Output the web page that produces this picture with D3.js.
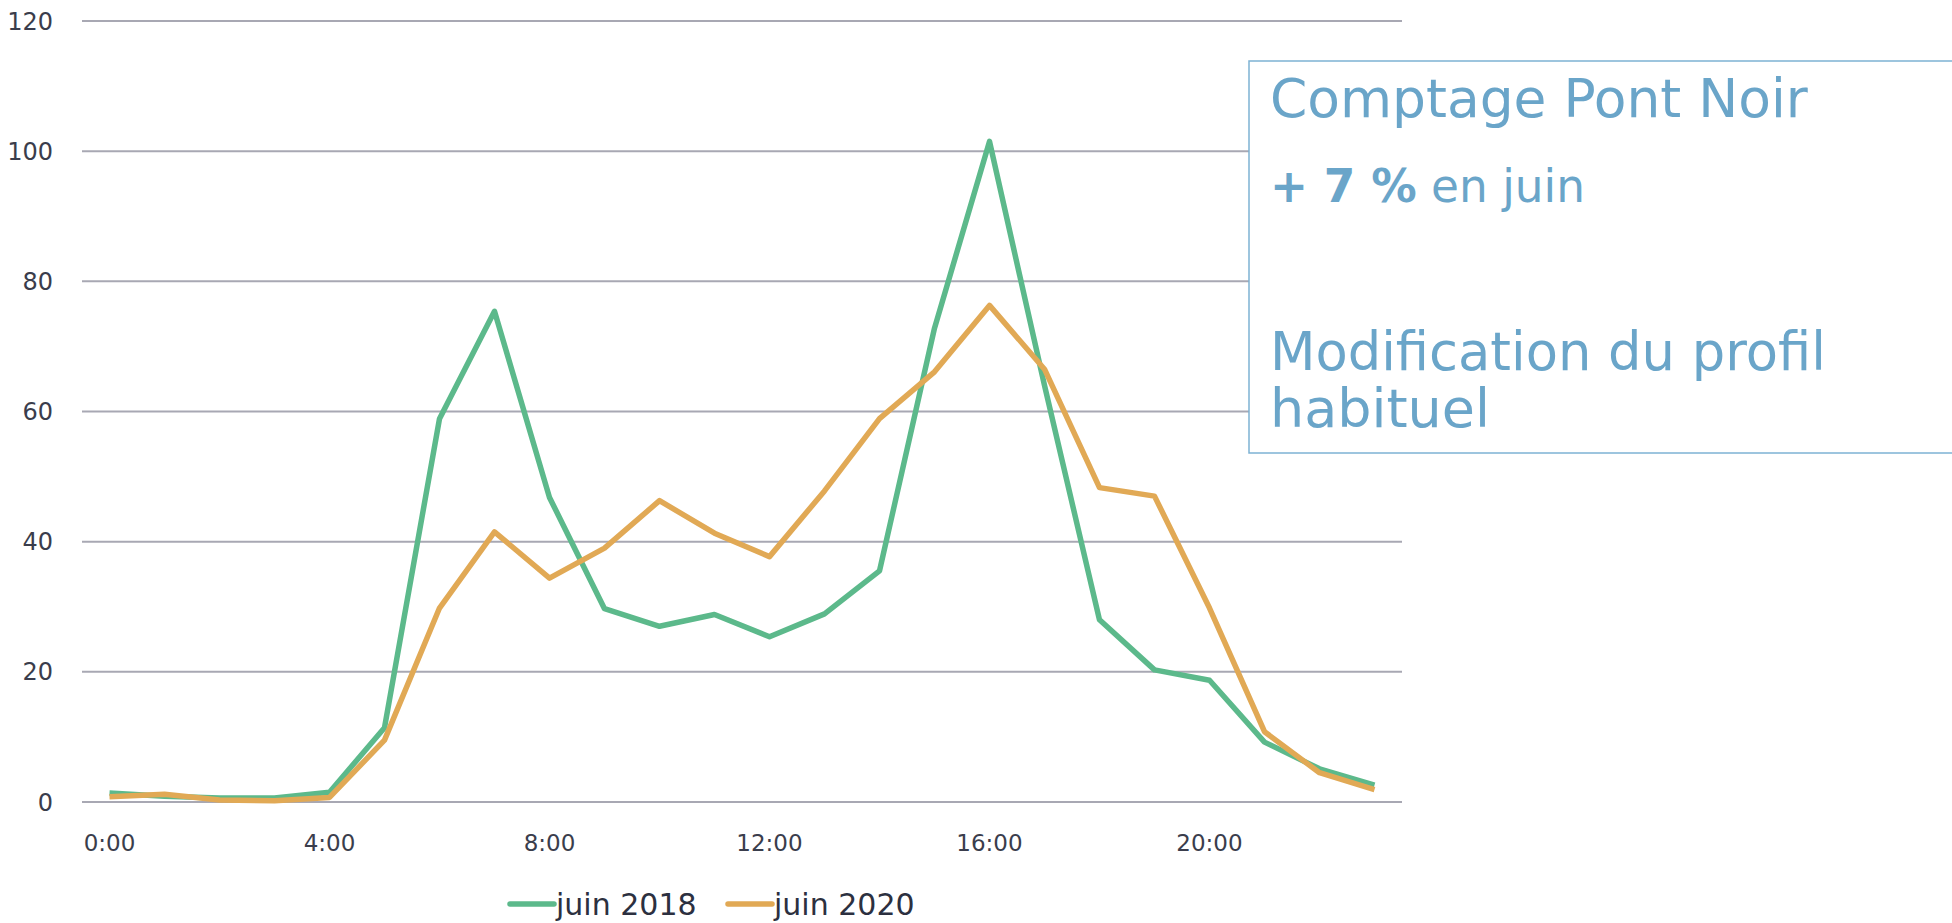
<!DOCTYPE html>
<html>
<head>
<meta charset="utf-8">
<script src="https://cdn.jsdelivr.net/npm/d3@7"></script>
<style>
  html, body { margin: 0; padding: 0; background: #ffffff; }
  svg { display: block; }
</style>
</head>
<body>
<svg id="chart" width="1952" height="923"></svg>
<script>
// ---- data ----
const hours = ["0:00","1:00","2:00","3:00","4:00","5:00","6:00","7:00","8:00","9:00","10:00","11:00",
               "12:00","13:00","14:00","15:00","16:00","17:00","18:00","19:00","20:00","21:00","22:00","23:00"];
const xTickLabels = ["0:00","4:00","8:00","12:00","16:00","20:00"];
const yTicks = [0, 20, 40, 60, 80, 100, 120];
const seriesNames = ["juin 2018", "juin 2020"];
const juin2018 = [1.4, 0.9, 0.6, 0.6, 1.5, 11.4, 58.9, 75.4, 46.8, 29.7, 27.0, 28.8,
                  25.4, 28.9, 35.5, 72.8, 101.5, 64.0, 28.0, 20.3, 18.7, 9.2, 5.1, 2.6];
const juin2020 = [0.8, 1.2, 0.3, 0.2, 0.7, 9.5, 29.8, 41.5, 34.4, 39.0, 46.3, 41.3,
                  37.7, 47.8, 58.9, 66.1, 76.3, 66.5, 48.3, 47.0, 29.8, 10.8, 4.5, 1.9];
const boxTitle = "Comptage Pont Noir";
const boxBold = "+ 7 %";
const boxRest = " en juin";
const boxLine3 = "Modification du profil";
const boxLine4 = "habituel";

// ---- setup ----
const svg = d3.select("#chart");
const colors = ["#5cb98b", "#e1a955"];
const axisFont = "'DejaVu Sans', sans-serif";

const x = d3.scaleBand().domain(hours).range([82, 1402]).padding(0);
const y = d3.scaleLinear().domain([0, 120]).range([802, 21]);
const xc = h => x(h) + x.bandwidth() / 2;

// gridlines
svg.append("g").selectAll("line").data(yTicks).join("line")
  .attr("x1", 82).attr("x2", 1402)
  .attr("y1", d => y(d)).attr("y2", d => y(d))
  .attr("stroke", "#a8a8b3").attr("stroke-width", 2);

// y labels
svg.append("g").selectAll("text").data(yTicks).join("text")
  .attr("x", 53).attr("y", d => y(d)).attr("dy", "0.36em")
  .attr("text-anchor", "end")
  .attr("font-family", axisFont).attr("font-size", 24)
  .attr("fill", "#3a3d4c")
  .text(d => d);

// x labels
svg.append("g").selectAll("text").data(xTickLabels).join("text")
  .attr("x", d => xc(d)).attr("y", 851)
  .attr("text-anchor", "middle")
  .attr("font-family", axisFont).attr("font-size", 23)
  .attr("fill", "#3a3d4c")
  .text(d => d);

// lines
const line = d3.line().x((d, i) => xc(hours[i])).y(d => y(d));
[juin2018, juin2020].forEach((s, i) => {
  svg.append("path").datum(s)
    .attr("d", line)
    .attr("fill", "none")
    .attr("stroke", colors[i])
    .attr("stroke-width", 5.5)
    .attr("stroke-linejoin", "round")
    .attr("stroke-linecap", "butt");
});

// legend
const legendItems = [{name: seriesNames[0], x0: 510, color: colors[0]},
                     {name: seriesNames[1], x0: 728, color: colors[1]}];
const lg = svg.append("g");
legendItems.forEach(it => {
  lg.append("line").attr("x1", it.x0).attr("x2", it.x0 + 44)
    .attr("y1", 904).attr("y2", 904)
    .attr("stroke", it.color).attr("stroke-width", 5.5).attr("stroke-linecap", "round");
  lg.append("text").attr("x", it.x0 + 46).attr("y", 915)
    .attr("font-family", axisFont).attr("font-size", 30)
    .attr("fill", "#2c3040").text(it.name);
});

// annotation box
const boxColor = "#6aa5c9";
svg.append("rect")
  .attr("x", 1249).attr("y", 61).attr("width", 720).attr("height", 392)
  .attr("fill", "#ffffff").attr("stroke", "#7db2d4").attr("stroke-width", 1.5);

const boxFont = "'DejaVu Sans', sans-serif";
const bg = svg.append("g").attr("font-family", boxFont).attr("fill", boxColor);
function fitText(sel, target) {
  const w = sel.node().getComputedTextLength();
  const fs = parseFloat(sel.attr("font-size"));
  sel.attr("font-size", fs * target / w);
}
const t1 = bg.append("text").attr("x", 1270).attr("y", 117).attr("font-size", 53).text(boxTitle);
fitText(t1, 538);
const t2 = bg.append("text").attr("x", 1270).attr("y", 202).attr("font-size", 53);
t2.append("tspan").attr("font-weight", "bold").text(boxBold);
t2.append("tspan").text(boxRest);
fitText(t2, 315);
const t3 = bg.append("text").attr("x", 1270).attr("y", 370).attr("font-size", 53).text(boxLine3);
fitText(t3, 556);
const t4 = bg.append("text").attr("x", 1270).attr("y", 427).attr("font-size", 53).text(boxLine4);
fitText(t4, 220);
</script>
</body>
</html>
